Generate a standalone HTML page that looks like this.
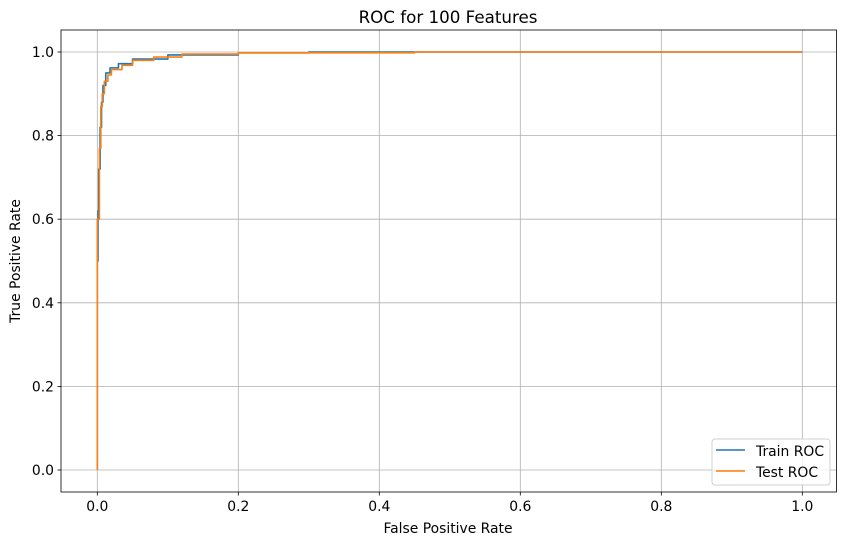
<!DOCTYPE html>
<html><head><meta charset="utf-8"><style>
body{margin:0;background:#fff;font-family:"Liberation Sans","DejaVu Sans",sans-serif}
svg text{font-family:"DejaVu Sans","Liberation Sans",sans-serif;font-size:13.9px;fill:#000}
</style></head><body>
<svg id="c" width="846" height="545"></svg>
<script>
const xTicks=[0,0.2,0.4,0.6,0.8,1.0];
const yTicks=[0,0.2,0.4,0.6,0.8,1.0];
const tickLabels=["0.0","0.2","0.4","0.6","0.8","1.0"];
const trainFpr=[0,0,0.001,0.001,0.002,0.002,0.004,0.004,0.006,0.006,0.008,0.008,0.012,0.012,0.018,0.018,0.03,0.03,0.05,0.05,0.1,0.1,0.2,0.2,0.3,0.3,1.0];
const trainTpr=[0,0.5,0.5,0.62,0.62,0.72,0.72,0.82,0.82,0.88,0.88,0.92,0.92,0.95,0.95,0.962,0.962,0.972,0.972,0.983,0.983,0.993,0.993,0.998,0.998,1.0,1.0];
const testFpr=[0,0,0.003,0.003,0.005,0.005,0.007,0.007,0.01,0.01,0.015,0.015,0.02,0.02,0.035,0.035,0.05,0.05,0.08,0.08,0.12,0.12,0.2,0.2,0.45,0.45,1.0];
const testTpr=[0,0.6,0.6,0.77,0.77,0.87,0.87,0.9,0.9,0.93,0.93,0.945,0.945,0.958,0.958,0.968,0.968,0.98,0.98,0.988,0.988,0.995,0.995,0.998,0.998,1.0,1.0];
const NS="http://www.w3.org/2000/svg",svg=document.getElementById('c');
const L=61,R=836.5,T=30,B=492;
const X=v=>97.3+v*705, Y=v=>470-v*418;
function el(t,a,p){const e=document.createElementNS(NS,t);for(const k in a)e.setAttribute(k,a[k]);(p||svg).appendChild(e);return e;}
xTicks.forEach((v,i)=>{
 const g=el('line',{x1:X(v),x2:X(v),y1:T,y2:B,stroke:'#b0b0b0','stroke-width':0.8});
 
 
 el('line',{x1:X(v),x2:X(v),y1:B,y2:B+3.5,stroke:'#000','stroke-width':0.8});
 const t=el('text',{x:X(v),y:B+19,'text-anchor':'middle'});t.textContent=tickLabels[i];
 
 
});
yTicks.forEach((v,i)=>{
 const g=el('line',{x1:L,x2:R,y1:Y(v),y2:Y(v),stroke:'#b0b0b0','stroke-width':0.8});
 
 
 el('line',{x1:L-3.5,x2:L,y1:Y(v),y2:Y(v),stroke:'#000','stroke-width':0.8});
 const t=el('text',{x:L-7,y:Y(v)+5,'text-anchor':'end'});t.textContent=tickLabels[i];
 
 
});
function line(xs,ys,c,n){const p=el('polyline',{points:xs.map((x,i)=>X(x)+','+Y(ys[i])).join(' '),fill:'none',stroke:c,'stroke-width':1.6,'stroke-linejoin':'round'});
 
 }
line(trainFpr,trainTpr,'#1f77b4','train-roc-line');
line(testFpr,testTpr,'#ff7f0e','test-roc-line');
const f=el('rect',{x:L,y:T,width:R-L,height:B-T,fill:'none',stroke:'#000','stroke-width':0.8});


</script>
<svg width="846" height="545" style="position:absolute;left:0;top:0">
<text x="448" y="23" text-anchor="middle" style="font-size:16.7px">ROC for 100 Features</text>
<text x="448" y="533" text-anchor="middle">False Positive Rate</text>
<text x="0" y="0" transform="translate(20,261) rotate(-90)" text-anchor="middle">True Positive Rate</text>
<g>
<rect x="712" y="439" width="118" height="46" rx="3" fill="#fff" fill-opacity="0.8" stroke="#d0d0d0"/>
<line x1="716" x2="745" y1="450" y2="450" stroke="#1f77b4" stroke-width="1.6"/>
<text x="756" y="456">Train ROC</text>
<line x1="716" x2="745" y1="471" y2="471" stroke="#ff7f0e" stroke-width="1.6"/>
<text x="756" y="477">Test ROC</text>
</g>
</svg>
</body></html>
